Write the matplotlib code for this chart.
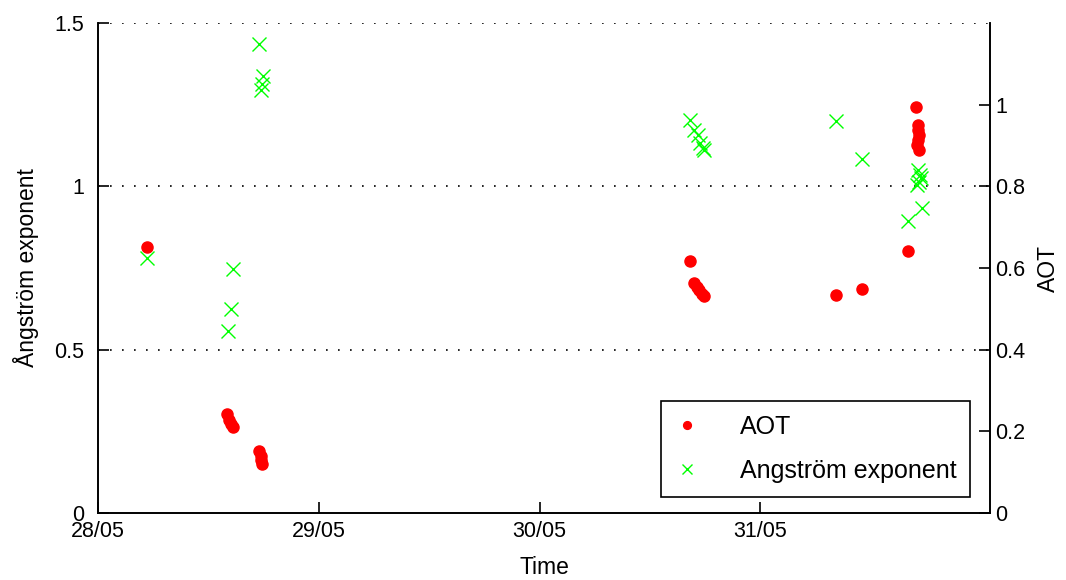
import numpy as np
import matplotlib
matplotlib.use("Agg")
import matplotlib.pyplot as plt

plt.rcParams['font.family'] = ['Liberation Sans', 'DejaVu Sans']

# time as decimal day of May
aot_time = [28.222, 28.584, 28.594, 28.603, 28.612,
            28.730, 28.738, 28.738, 28.742,
            30.680, 30.700, 30.714, 30.723, 30.737, 30.746,
            31.344, 31.462, 31.670, 31.706,
            31.715, 31.715, 31.720, 31.715, 31.710, 31.720]
aot = [0.651, 0.242, 0.228, 0.218, 0.211,
       0.152, 0.140, 0.130, 0.120,
       0.617, 0.563, 0.553, 0.546, 0.536, 0.531,
       0.534, 0.549, 0.642, 0.994,
       0.950, 0.938, 0.926, 0.913, 0.901, 0.889]

ang_time = [28.222, 28.612, 28.603, 28.589,
            28.730, 28.746, 28.742, 28.738,
            30.680, 30.698, 30.716, 30.725, 30.739, 30.743,
            31.344, 31.462, 31.670, 31.733,
            31.715, 31.724, 31.728, 31.719, 31.710]
ang = [0.780, 0.747, 0.624, 0.557,
       1.436, 1.338, 1.313, 1.295,
       1.203, 1.172, 1.157, 1.133, 1.117, 1.111,
       1.200, 1.084, 0.894, 0.934,
       1.050, 1.035, 1.025, 1.013, 1.004]

day_ticks = [28, 29, 30, 31]
day_labels = ['28/05', '29/05', '30/05', '31/05']

fig = plt.figure(figsize=(10.66, 5.8), dpi=100)
ax = fig.add_axes([0.0919, 0.1155, 0.8368, 0.8448])
ax2 = ax.twinx()

hx, = ax.plot(ang_time, ang, 'x', color=(0, 1, 0), markersize=10, markeredgewidth=1.0,
              label='Angström exponent', zorder=3)
ha, = ax2.plot(aot_time, aot, 'o', color='red', markersize=8, markeredgecolor='red',
               label='AOT', zorder=3)

ax.set_xlim(28, 32.04)
ax.set_ylim(0, 1.5)
ax2.set_ylim(0, 1.2)
ax.set_xticks(day_ticks)
ax.set_xticklabels(day_labels)
ax.set_yticks([0, 0.5, 1, 1.5])
ax.set_yticklabels(['0', '0.5', '1', '1.5'])
ax2.set_yticks([0, 0.2, 0.4, 0.6, 0.8, 1.0])
ax2.set_yticklabels(['0', '0.2', '0.4', '0.6', '0.8', '1'])

for a in (ax, ax2):
    a.spines['top'].set_visible(False)
    for s in a.spines.values():
        s.set_linewidth(1.2)
ax.tick_params(axis='both', direction='in', length=8, labelsize=15.5, width=1.2, pad=6)
ax2.tick_params(axis='y', direction='in', length=8, labelsize=15.5, width=1.2, pad=4)
ax.tick_params(axis='y', pad=10)

for yv in [0.5, 1.0, 1.5]:
    ax.axhline(yv, color='black', linestyle=(0, (1, 6.2)), linewidth=1.2, zorder=1)

ax.set_xlabel('Time', fontsize=16.5, labelpad=10)
ax.set_ylabel('Ångström exponent', fontsize=16.5, labelpad=11)
ax2.set_ylabel('AOT', fontsize=16.5, labelpad=8)

leg = ax2.legend([ha, hx], ['AOT', 'Angström exponent'], loc='lower right',
                 bbox_to_anchor=(0.9776, 0.0327), borderaxespad=0, fontsize=18,
                 markerscale=0.7, fancybox=False, edgecolor='black', framealpha=1,
                 handlelength=1.0, handletextpad=1.6, borderpad=0.55, labelspacing=0.8)
leg.get_frame().set_linewidth(1.2)

fig.savefig('out.png', dpi=100)
